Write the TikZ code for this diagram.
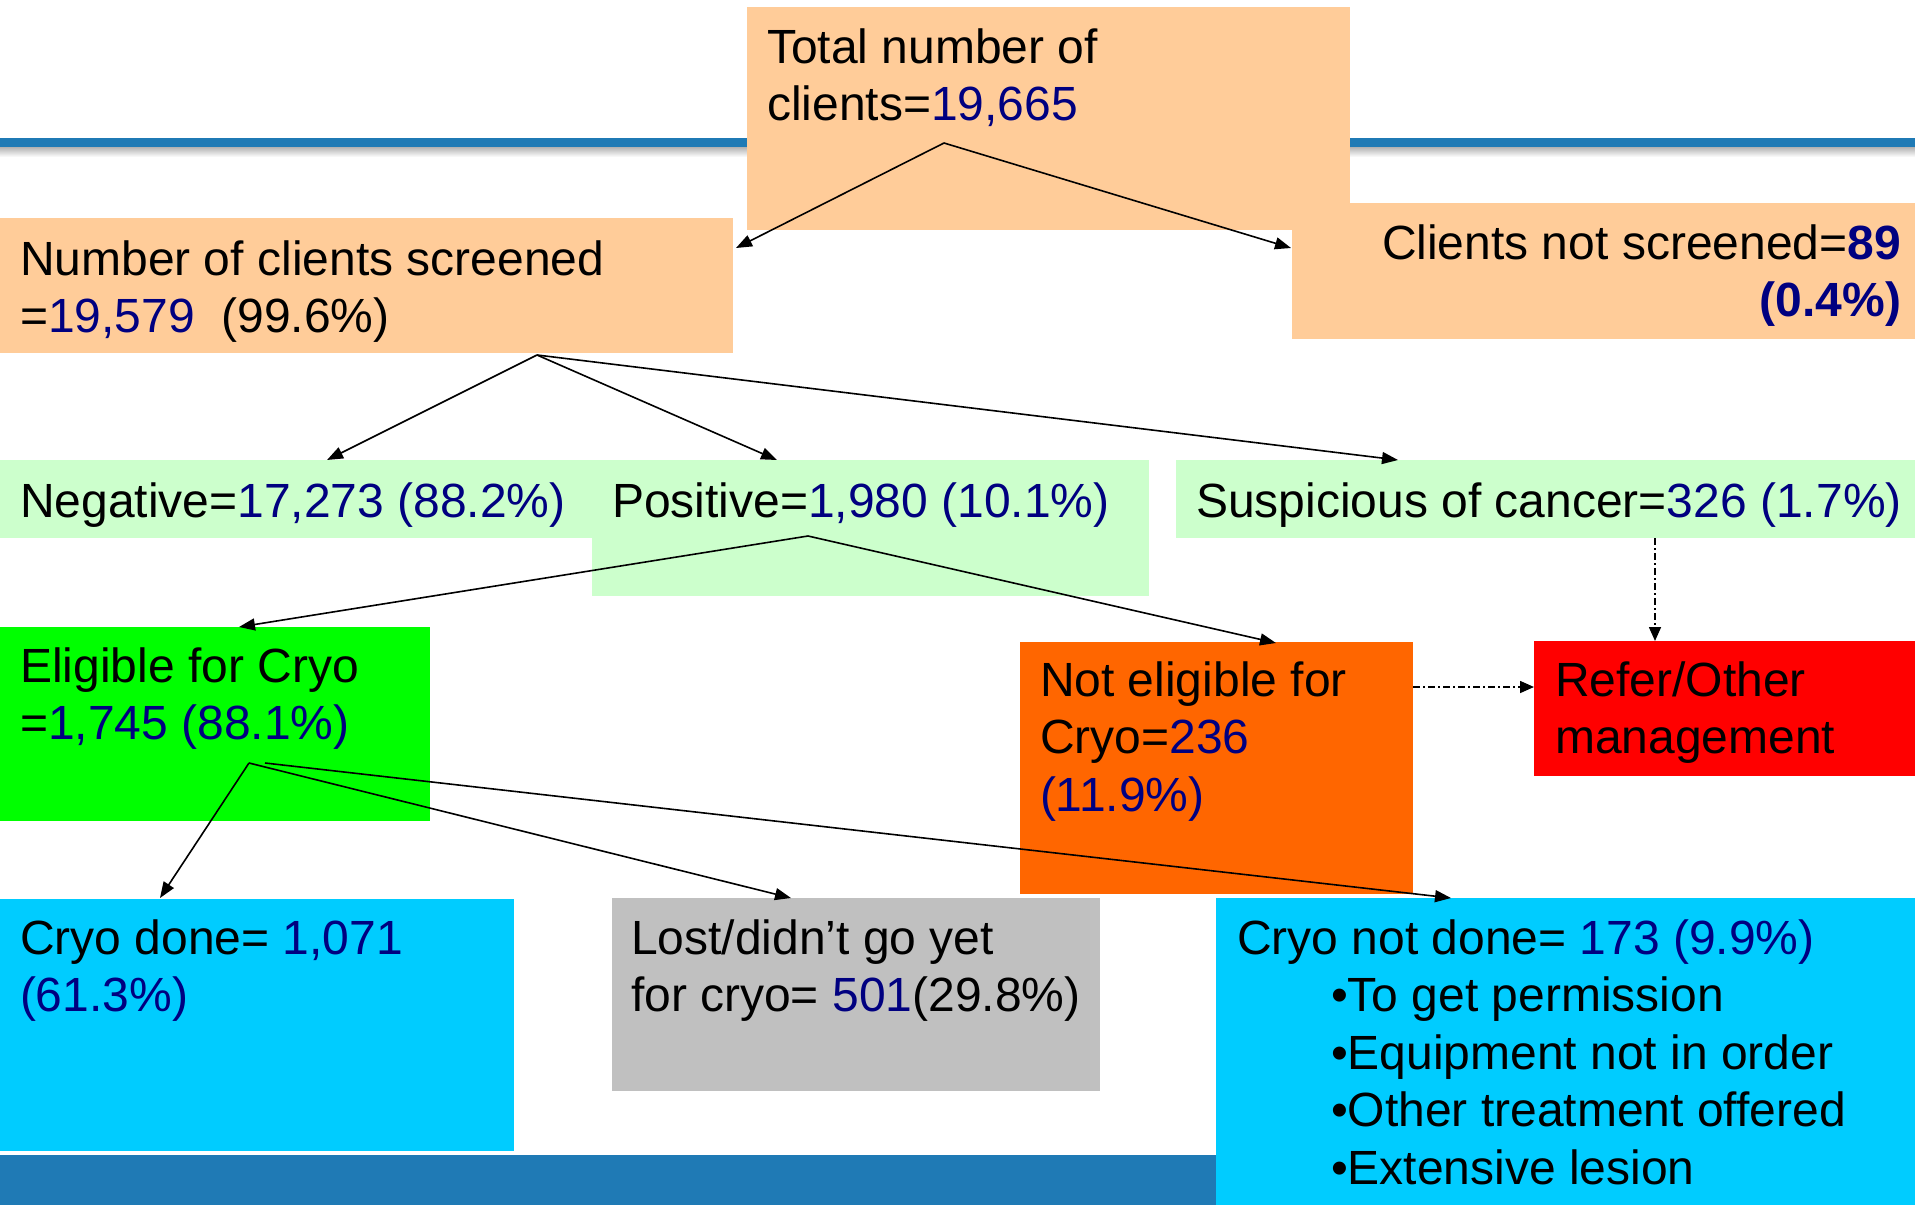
\documentclass[tikz,border=0pt]{standalone}
\usepackage{fontspec}
\setmainfont{Liberation Sans}
\usetikzlibrary{arrows.meta}
\definecolor{peach}{HTML}{FFCC99}
\definecolor{lgreen}{HTML}{CCFFCC}
\definecolor{bgreen}{HTML}{00FF00}
\definecolor{orng}{HTML}{FF6600}
\definecolor{rred}{HTML}{FF0000}
\definecolor{cyanb}{HTML}{00CCFF}
\definecolor{grayb}{HTML}{C0C0C0}
\definecolor{barblue}{HTML}{1F7AB5}
\definecolor{numblue}{HTML}{000080}
\newcommand\nb[1]{\textcolor{numblue}{#1}}
\newcommand\fl{\rule{0pt}{38pt}}
\begin{document}
\begin{tikzpicture}[x=1pt,y=-1pt,
  box/.style={anchor=north west, inner sep=0pt, outer sep=0pt, draw=none},
  txt/.style={anchor=north west, inner sep=0pt, outer sep=0pt, align=left,
    font=\fontsize{48}{57.5}\selectfont},
  arr/.style={line width=1.6pt, -{Triangle[length=16pt,width=12pt]}},
  dd/.style={line width=1.6pt, dash pattern=on 7pt off 3pt on 2pt off 3pt,
    -{Triangle[length=14pt,width=12pt]}}]
\useasboundingbox (0,0) rectangle (1915,1205);
% background bars
\fill[barblue] (0,138) rectangle (1915,147);
\shade[top color=black!30, bottom color=white] (0,147) rectangle (1915,157);
\fill[barblue] (0,1155) rectangle (1216,1205);
% boxes
\node[box, fill=peach, minimum width=603, minimum height=223] (tot) at (747,7) {};
\node[box, fill=peach, minimum width=733, minimum height=135] (scr) at (0,218) {};
\node[box, fill=peach, minimum width=623, minimum height=136] (nscr) at (1292,203) {};
\node[box, fill=lgreen, minimum width=592, minimum height=78] (neg) at (0,460) {};
\node[box, fill=lgreen, minimum width=557, minimum height=136] (pos) at (592,460) {};
\node[box, fill=lgreen, minimum width=739, minimum height=78] (sus) at (1176,460) {};
\node[box, fill=bgreen, minimum width=430, minimum height=194] (elig) at (0,627) {};
\node[box, fill=orng, minimum width=393, minimum height=252] (nel) at (1020,642) {};
\node[box, fill=rred, minimum width=381, minimum height=135] (ref) at (1534,641) {};
\node[box, fill=cyanb, minimum width=514, minimum height=252] (done) at (0,899) {};
\node[box, fill=grayb, minimum width=488, minimum height=193] (lost) at (612,898) {};
\node[box, fill=cyanb, minimum width=699, minimum height=307] (ndone) at (1216,898) {};
% texts
\node[txt] (ttot) at (767,25) {\fl Total number of\\clients=\nb{19,665}};
\node[txt] (tscr) at (20,237) {\fl Number of clients screened\\=\nb{19,579}\ \ (99.6\%)};
\node[txt, anchor=north east, align=right] (tnscr) at (1901,221)
  {\fl Clients not screened=\textbf{\nb{89}}\\\textbf{\nb{(0.4\%)}}};
\node[txt] (tneg) at (20,479) {\fl Negative=\nb{17,273 (88.2\%)}};
\node[txt] (tpos) at (612,479) {\fl Positive=\nb{1,980 (10.1\%)}};
\node[txt] (tsus) at (1196,479) {\fl Suspicious of cancer=\nb{326 (1.7\%)}};
\node[txt] (telig) at (20,644) {\fl Eligible for Cryo\\=\nb{1,745 (88.1\%)}};
\node[txt] (tnel) at (1040,658) {\fl Not eligible for\\Cryo=\nb{236}\\\nb{(11.9\%)}};
\node[txt] (tref) at (1555,658) {\fl Refer/Other\\management};
\node[txt] (tdone) at (20,916) {\fl Cryo done= \nb{1,071}\\\nb{(61.3\%)}};
\node[txt] (tlost) at (631,916) {\fl Lost/didn’t go yet\\for cryo= \nb{501}(29.8\%)};
\node[txt] (tndone) at (1237,916) {\fl Cryo not done= \nb{173 (9.9\%)}\\
  \hspace*{94pt}•To get permission\\
  \hspace*{94pt}•Equipment not in order\\
  \hspace*{94pt}•Other treatment offered\\
  \hspace*{94pt}•Extensive lesion};
% connector points
\coordinate (o-tot) at (944,143);
\coordinate (i-scr) at (736,248);
\coordinate (i-nscr) at (1291,248);
\coordinate (o-scr) at (537,355);
\coordinate (i-neg) at (327,460);
\coordinate (i-pos) at (777,460);
\coordinate (i-sus) at (1398,460);
\coordinate (o-pos) at (808,536);
\coordinate (i-elig) at (239,627);
\coordinate (i-nel) at (1276,643);
\coordinate (o-elig) at (249,763);
\coordinate (o-elig2) at (265,763);
\coordinate (i-done) at (160,898);
\coordinate (i-lost) at (791,898);
\coordinate (i-ndone) at (1451,898);
\coordinate (o-sus) at (1655,538);
\coordinate (i-ref) at (1655,641);
\coordinate (o-nel) at (1413,687);
\coordinate (i-ref2) at (1534,687);
% connectors
\draw[arr] (o-tot) -- (i-scr);
\draw[arr] (o-tot) -- (i-nscr);
\draw[arr] (o-scr) -- (i-neg);
\draw[arr] (o-scr) -- (i-pos);
\draw[arr] (o-scr) -- (i-sus);
\draw[arr] (o-pos) -- (i-elig);
\draw[arr] (o-pos) -- (i-nel);
\draw[arr] (o-elig) -- (i-done);
\draw[arr] (o-elig) -- (i-lost);
\draw[arr] (o-elig2) -- (i-ndone);
\draw[dd] (o-sus) -- (i-ref);
\draw[dd] (o-nel) -- (i-ref2);
\end{tikzpicture}
\end{document}
